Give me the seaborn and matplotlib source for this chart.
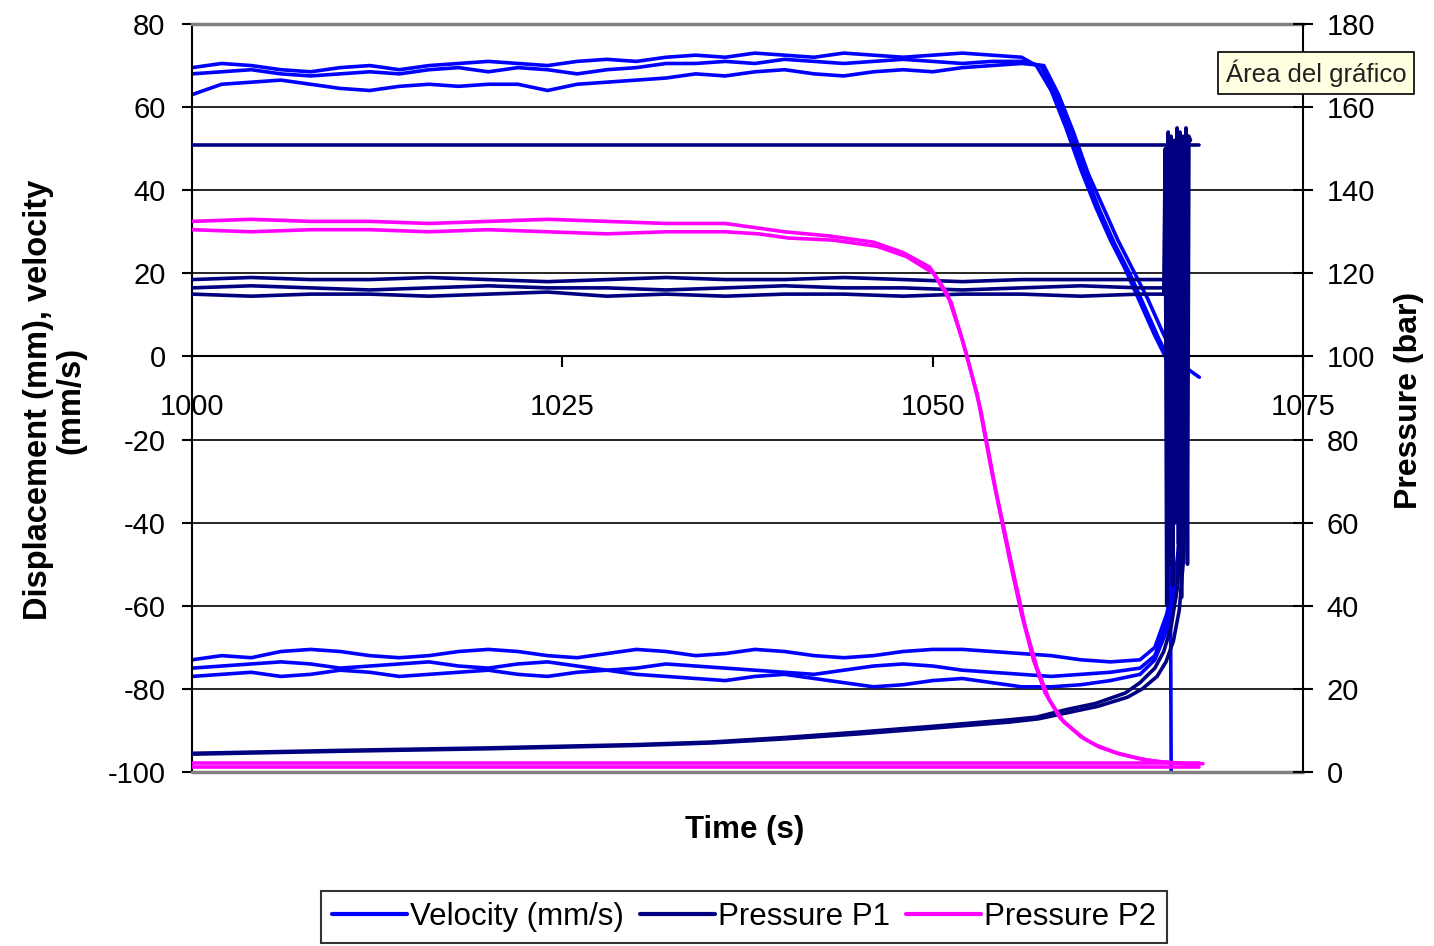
import pandas as pd
import matplotlib
matplotlib.use("Agg")
import matplotlib.pyplot as plt
from matplotlib.lines import Line2D
import seaborn as sns

# Colours of the three series
VEL_COLOR = "#0000FF"
P1_COLOR = "#000080"
P2_COLOR = "#FF00FF"

# ---------------- data ----------------
# Velocity, forward stroke (left axis, mm/s), sampled every 2 s
vel_fwd_time = list(range(1000, 1057, 2))
vel_fwd_a = [69.5, 70.5, 70, 69, 68.5, 69.5, 70, 69, 70, 70.5, 71, 70.5, 70, 71, 71.5, 71, 72,
             72.5, 72, 73, 72.5, 72, 73, 72.5, 72, 72.5, 73, 72.5, 72]
vel_fwd_b = [68, 68.5, 69, 68, 67.5, 68, 68.5, 68, 69, 69.5, 68.5, 69.5, 69, 68, 69, 69.5, 70.5,
             70.5, 71, 70.5, 71.5, 71, 70.5, 71, 71.5, 71, 70.5, 71, 71]
vel_fwd_c = [63, 65.5, 66, 66.5, 65.5, 64.5, 64, 65, 65.5, 65, 65.5, 65.5, 64, 65.5, 66, 66.5, 67,
             68, 67.5, 68.5, 69, 68, 67.5, 68.5, 69, 68.5, 69.5, 70, 70.5]

# end of forward stroke: deceleration
vel_drop_time_a = [1057.0, 1058, 1059, 1060, 1061, 1062, 1063, 1064, 1065, 1065.7, 1066.0, 1066.1]
vel_drop_a = [70, 64, 55, 45, 36, 28, 21, 13, 5, 0, -3, -100]
vel_drop_time_b = [1057.3, 1058.3, 1059.3, 1060.3, 1061.3, 1062.3, 1063.3, 1064.3, 1065.3, 1066.0, 1066.3]
vel_drop_b = [70, 63, 54, 44, 35, 27, 20, 12, 4, -1, -40]
vel_drop_time_c = [1057.5, 1058.5, 1059.5, 1060.5, 1061.5, 1062.5, 1063.5, 1064.5, 1065.5, 1066.3, 1067.2, 1068]
vel_drop_c = [70, 63, 54, 44, 36, 28, 21, 14, 6, 0, -3, -5]

# Velocity, return stroke, sampled every 2 s
vel_ret_time = list(range(1000, 1065, 2))
vel_ret_a = [-73, -72, -72.5, -71, -70.5, -71, -72, -72.5, -72, -71, -70.5, -71, -72, -72.5, -71.5,
             -70.5, -71, -72, -71.5, -70.5, -71, -72, -72.5, -72, -71, -70.5, -70.5, -71, -71.5,
             -72, -73, -73.5, -73]
vel_ret_b = [-75, -74.5, -74, -73.5, -74, -75, -74.5, -74, -73.5, -74.5, -75, -74, -73.5, -74.5,
             -75.5, -75, -74, -74.5, -75, -75.5, -76, -76.5, -75.5, -74.5, -74, -74.5, -75.5, -76,
             -76.5, -77, -76.5, -76, -75]
vel_ret_c = [-77, -76.5, -76, -77, -76.5, -75.5, -76, -77, -76.5, -76, -75.5, -76.5, -77, -76,
             -75.5, -76.5, -77, -77.5, -78, -77, -76.5, -77.5, -78.5, -79.5, -79, -78, -77.5,
             -78.5, -79.5, -79.5, -79, -78, -76.5]
vel_rise_time = [1065.0, 1065.8, 1066.4, 1066.8, 1067.0]
vel_rise_a = [-70, -62, -52, -40, -8]
vel_rise_b = [-72, -64, -55, -44, -8]
vel_rise_c = [-73, -66, -58, -47, -8]

# Pressure P1 (right axis, bar), flat part every 4 s
p1_time = list(range(1000, 1065, 4))
p1_a = [118.5, 119, 118.5, 118.5, 119, 118.5, 118, 118.5, 119, 118.5, 118.5, 119, 118.5, 118,
        118.5, 118.5, 118.5]
p1_b = [116.5, 117, 116.5, 116, 116.5, 117, 116.5, 116.5, 116, 116.5, 117, 116.5, 116.5, 116,
        116.5, 117, 116.5]
p1_c = [115, 114.5, 115, 115, 114.5, 115, 115.5, 114.5, 115, 114.5, 115, 115, 114.5, 115, 115,
        114.5, 115]
# end of stroke: pressure swings up and down in a narrow, solid band
p1_tail_time_a = [1065.8, 1065.9, 1066.0, 1066.1, 1066.2, 1066.3, 1066.4, 1066.5, 1066.6, 1066.7, 1066.8]
p1_tail_a = [118.5, 154, 50, 153, 45, 152, 60, 154, 48, 152, 150]
p1_tail_time_b = [1066.4, 1066.5, 1066.6, 1066.7, 1066.8, 1066.9, 1067.0, 1067.1, 1067.2, 1067.3, 1067.4]
p1_tail_b = [116.5, 155, 55, 154, 42, 153, 65, 155, 50, 153, 152]
p1_tail_time_c = [1065.6, 1065.7, 1065.8, 1065.9, 1066.0, 1066.1, 1066.2, 1066.3, 1066.4, 1066.5, 1066.6]
p1_tail_c = [115, 150, 40, 148, 55, 150, 45, 149, 60, 150, 148]

p1_set_time = [1000, 1068]
p1_set = [151, 151]

p1_ramp_time = [1000, 1010, 1020, 1030, 1035, 1040, 1045, 1050, 1055, 1057, 1059, 1061, 1063,
                1064, 1065, 1065.6, 1066.1, 1066.5, 1066.8, 1067.0, 1067.1]
p1_ramp_a = [4.5, 5.2, 5.8, 6.6, 7.2, 8.3, 9.6, 11, 12.5, 13.2, 15, 16.5, 19, 21.5, 25, 29, 35,
             44, 60, 100, 154]
p1_ramp_b = [4.3, 5, 5.6, 6.4, 7, 8, 9.2, 10.6, 12, 12.8, 14.3, 15.8, 18, 20, 23, 26.5, 31.5,
             39, 52, 90, 153]

# Pressure P2 (right axis, bar)
p2_time = list(range(1000, 1037, 4))
p2_a = [132.5, 133, 132.5, 132.5, 132, 132.5, 133, 132.5, 132, 132]
p2_b = [130.5, 130, 130.5, 130.5, 130, 130.5, 130, 129.5, 130, 130]
p2_dec_time = [1038, 1040, 1043, 1046, 1048, 1049.8, 1051, 1052, 1053, 1054, 1055.2, 1056,
               1056.8, 1057.6, 1058.6, 1060, 1061, 1062.4, 1064, 1065, 1066.9, 1068]
p2_dec_a = [131, 130, 129, 127.5, 125, 121.5, 115, 104, 91, 72, 51, 38, 27, 19, 13, 8.5, 6.5,
            4.6, 3.2, 2.6, 2, 2]
p2_dec_b = [129.5, 128.5, 128, 126.5, 124, 120, 113, 101, 87, 68, 48, 35, 25, 17.5, 12, 8, 6,
            4.3, 3, 2.5, 2, 2]
p2_low_time = [1000, 1068]
p2_low_a = [2.2, 2.2]
p2_low_b = [1.2, 1.2]

x_ticks = [1000, 1025, 1050, 1075]


def long_table(pieces):
    rows = []
    for name, times, values in pieces:
        for t, v in zip(times, values):
            rows.append({"time": t, "value": v, "trace": name})
    return pd.DataFrame(rows)


vel_df = long_table([
    ("fa", vel_fwd_time + vel_drop_time_a, vel_fwd_a + vel_drop_a),
    ("fb", vel_fwd_time + vel_drop_time_b, vel_fwd_b + vel_drop_b),
    ("fc", vel_fwd_time + vel_drop_time_c, vel_fwd_c + vel_drop_c),
    ("ra", vel_ret_time + vel_rise_time, vel_ret_a + vel_rise_a),
    ("rb", vel_ret_time + vel_rise_time, vel_ret_b + vel_rise_b),
    ("rc", vel_ret_time + vel_rise_time, vel_ret_c + vel_rise_c),
])
p1_df = long_table([
    ("a", p1_time + p1_tail_time_a, p1_a + p1_tail_a),
    ("b", p1_time + p1_tail_time_b, p1_b + p1_tail_b),
    ("c", p1_time + p1_tail_time_c, p1_c + p1_tail_c),
    ("set", p1_set_time, p1_set),
    ("ramp_a", p1_ramp_time, p1_ramp_a),
    ("ramp_b", [t + 0.15 for t in p1_ramp_time], p1_ramp_b),
])
p2_df = long_table([
    ("a", p2_time + p2_dec_time, p2_a + p2_dec_a),
    ("b", p2_time + [t + 0.25 for t in p2_dec_time], p2_b + p2_dec_b),
    ("low_a", p2_low_time, p2_low_a),
    ("low_b", p2_low_time, p2_low_b),
])

# ---------------- figure ----------------
sns.set_style("white")
plt.rcParams["font.family"] = ["Liberation Sans", "DejaVu Sans"]
plt.rcParams["axes.unicode_minus"] = False
plt.rcParams["text.color"] = "black"
plt.rcParams["axes.labelcolor"] = "black"

fig = plt.figure(figsize=(14.34, 9.46), dpi=100)
ax = fig.add_axes([192 / 1434, 1 - 772 / 946, (1303 - 192) / 1434, (772 - 24) / 946])
ax2 = ax.twinx()

sns.lineplot(data=vel_df, x="time", y="value", units="trace", estimator=None, sort=False,
             color=VEL_COLOR, linewidth=2.6, ax=ax, legend=False)
sns.lineplot(data=p1_df, x="time", y="value", units="trace", estimator=None, sort=False,
             color=P1_COLOR, linewidth=2.6, ax=ax2, legend=False)
sns.lineplot(data=p2_df, x="time", y="value", units="trace", estimator=None, sort=False,
             color=P2_COLOR, linewidth=2.6, ax=ax2, legend=False)

# axes limits and ticks
ax.set_xlim(1000, 1075)
ax.set_ylim(-100, 80)
ax2.set_ylim(0, 180)
ax.set_xticks(x_ticks)
ax.set_yticks(range(-100, 81, 20))
ax2.set_yticks(range(0, 181, 20))

# gridlines
ax.set_axisbelow(True)
ax.yaxis.grid(True, color="black", linewidth=1.2)
ax.xaxis.grid(False)
ax.axhline(-100, color="#808080", linewidth=2.5, zorder=3, clip_on=False)

# spines: x axis crosses at zero, grey frame top and bottom
ax.spines["bottom"].set_position(("data", 0))
ax.spines["bottom"].set_color("black")
ax.spines["bottom"].set_linewidth(1.5)
ax.spines["left"].set_color("black")
ax.spines["left"].set_linewidth(1.5)
ax.spines["top"].set_color("#808080")
ax.spines["top"].set_linewidth(2.5)
ax.spines["right"].set_visible(False)
for side in ["top", "bottom", "left"]:
    ax2.spines[side].set_visible(False)
ax2.spines["right"].set_color("black")
ax2.spines["right"].set_linewidth(1.5)

ax.tick_params(axis="y", direction="out", length=7, width=1.5, pad=12, labelsize=21,
               left=True, colors="black")
ax.tick_params(axis="x", direction="out", length=8, width=1.5, pad=18, labelsize=21,
               bottom=True, colors="black")
ax2.tick_params(axis="y", direction="inout", length=14, width=1.5, pad=10, labelsize=21,
                right=True, colors="black")

# axis titles
ax.set_xlabel("Time (s)", fontsize=22.5, fontweight="bold", color="black")
ax.xaxis.set_label_coords((745 - 192) / 1111, (772 - 815) / 748)
ax.set_ylabel("Displacement (mm), velocity\n(mm/s)", fontsize=23.5, fontweight="bold",
              linespacing=1.05, color="black")
ax.yaxis.set_label_coords((86 - 192) / 1111, (772 - 400) / 748)
ax2.set_ylabel("Pressure (bar)", fontsize=23, fontweight="bold", color="black")
ax2.yaxis.set_label_coords((1394 - 192) / 1111, (772 - 400) / 748)

# legend below the plot
handles = [Line2D([], [], color=VEL_COLOR, linewidth=3),
           Line2D([], [], color=P1_COLOR, linewidth=3),
           Line2D([], [], color=P2_COLOR, linewidth=3)]
labels = ["Velocity (mm/s)", "Pressure P1", "Pressure P2"]
leg = fig.legend(handles, labels, loc="upper center", bbox_to_anchor=(744 / 1434, 1 - 891 / 946),
                 ncol=3, fontsize=22.5, handlelength=2.4, handletextpad=0.1, columnspacing=0.5,
                 borderpad=0.35, borderaxespad=0, fancybox=False, frameon=True)
leg.get_frame().set_edgecolor("black")
leg.get_frame().set_linewidth(1.5)

# Excel tooltip
fig.text(1226 / 1434, 1 - 73 / 946, "Área del gráfico", fontsize=18.5, ha="left", va="center",
         color="#222222",
         bbox=dict(boxstyle="square,pad=0.3", facecolor="#FFFFE1", edgecolor="black", linewidth=1.2))

plt.savefig("out.png", dpi=100)
